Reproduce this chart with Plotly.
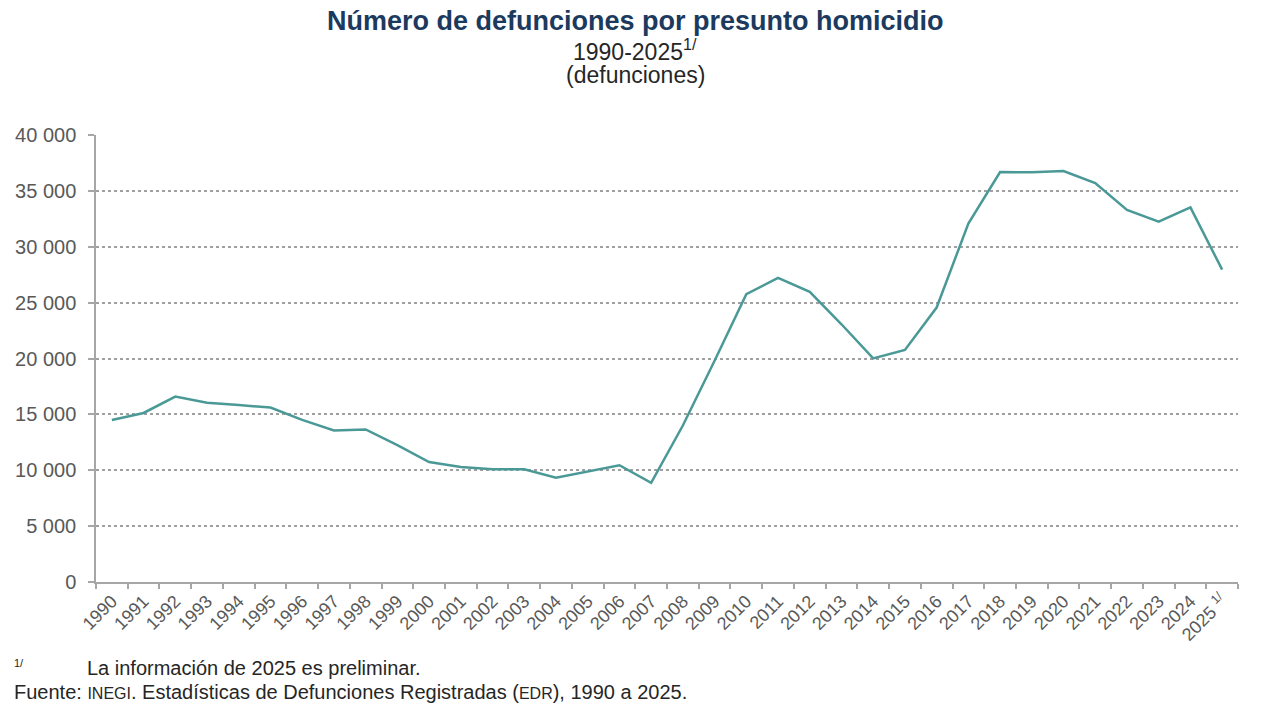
import plotly.graph_objects as go

# Datos: defunciones por presunto homicidio, 1990-2025
years = [str(y) for y in range(1990, 2026)]
tick_labels = years[:-1] + ["2025 <sup>1/</sup>"]
deaths = [
    14493, 15125, 16594, 16050, 15839, 15612, 14505, 13552, 13656, 12249,
    10737, 10285, 10088, 10087, 9329, 9921, 10452, 8867, 14006, 19803,
    25757, 27213, 25967, 23063, 20010, 20762, 24559, 32079, 36685, 36661,
    36773, 35700, 33287, 32252, 33526, 27950,
]
y_ticks = [0, 5000, 10000, 15000, 20000, 25000, 30000, 35000, 40000]
y_tick_text = ["0", "5 000", "10 000", "15 000", "20 000", "25 000", "30 000", "35 000", "40 000"]

text_gray = "#595959"
font_family = "Liberation Sans, Arial, sans-serif"

fig = go.Figure()

fig.add_trace(go.Scatter(
    x=years,
    y=deaths,
    mode="lines",
    line=dict(color="#4a9997", width=2.5),
    hoverinfo="x+y",
    showlegend=False,
))

# la página html añade 8 px de margen, se descuenta aquí
fig.update_layout(
    width=1280,
    height=719,
    margin=dict(l=88, r=50, t=127, b=145),
    paper_bgcolor="white",
    plot_bgcolor="white",
    font=dict(family=font_family, color=text_gray, size=18),
    xaxis=dict(
        type="category",
        tickmode="array",
        tickvals=years,
        ticktext=tick_labels,
        tickangle=-45,
        tickson="boundaries",
        ticks="outside",
        ticklen=5,
        tickcolor="#a6a6a6",
        tickwidth=1.5,
        showline=True,
        linecolor="#a6a6a6",
        linewidth=1.5,
        showgrid=False,
        tickfont=dict(size=18, color=text_gray),
        range=[-0.5, 35.5],
        automargin=False,
    ),
    yaxis=dict(
        range=[0, 40000],
        tickmode="array",
        tickvals=y_ticks,
        ticktext=y_tick_text,
        ticks="outside",
        ticklen=6,
        tickcolor="#a6a6a6",
        tickwidth=1.5,
        showline=True,
        linecolor="#a6a6a6",
        linewidth=1.5,
        showgrid=True,
        gridcolor="#a0a0a0",
        griddash="dot",
        gridwidth=1.5,
        zeroline=False,
        tickfont=dict(size=20, color=text_gray),
        ticklabelstandoff=8,
        automargin=False,
    ),
)

# Títulos
fig.add_annotation(
    text="<b>Número de defunciones por presunto homicidio</b>",
    xref="paper", yref="paper", x=0.472, y=1, xanchor="center", yanchor="middle",
    yshift=114, showarrow=False,
    font=dict(size=27, color="#1b3a5e", family=font_family),
)
fig.add_annotation(
    text="1990-2025<sup>1/</sup>",
    xref="paper", yref="paper", x=0.472, y=1, xanchor="center", yanchor="middle",
    yshift=85, showarrow=False,
    font=dict(size=23, color="#262626", family=font_family),
)
fig.add_annotation(
    text="(defunciones)",
    xref="paper", yref="paper", x=0.472, y=1, xanchor="center", yanchor="middle",
    yshift=60, showarrow=False,
    font=dict(size=23, color="#262626", family=font_family),
)

# Notas al pie
fig.add_annotation(
    text="1/",
    xref="paper", yref="paper", x=-0.0736, y=0, xanchor="left", yanchor="middle",
    yshift=-81, showarrow=False,
    font=dict(size=11, color="#262626", family=font_family),
)
fig.add_annotation(
    text="La información de 2025 es preliminar.",
    xref="paper", yref="paper", x=-0.0096, y=0, xanchor="left", yanchor="middle",
    yshift=-86, showarrow=False,
    font=dict(size=20, color="#262626", family=font_family),
)
fig.add_annotation(
    text="Fuente: <span style='font-size:16px'>INEGI</span>. Estadísticas de Defunciones Registradas "
         "(<span style='font-size:16px'>EDR</span>), 1990 a 2025.",
    xref="paper", yref="paper", x=-0.0736, y=0, xanchor="left", yanchor="middle",
    yshift=-110, showarrow=False,
    font=dict(size=20, color="#262626", family=font_family),
)

fig.write_html("out.html")
